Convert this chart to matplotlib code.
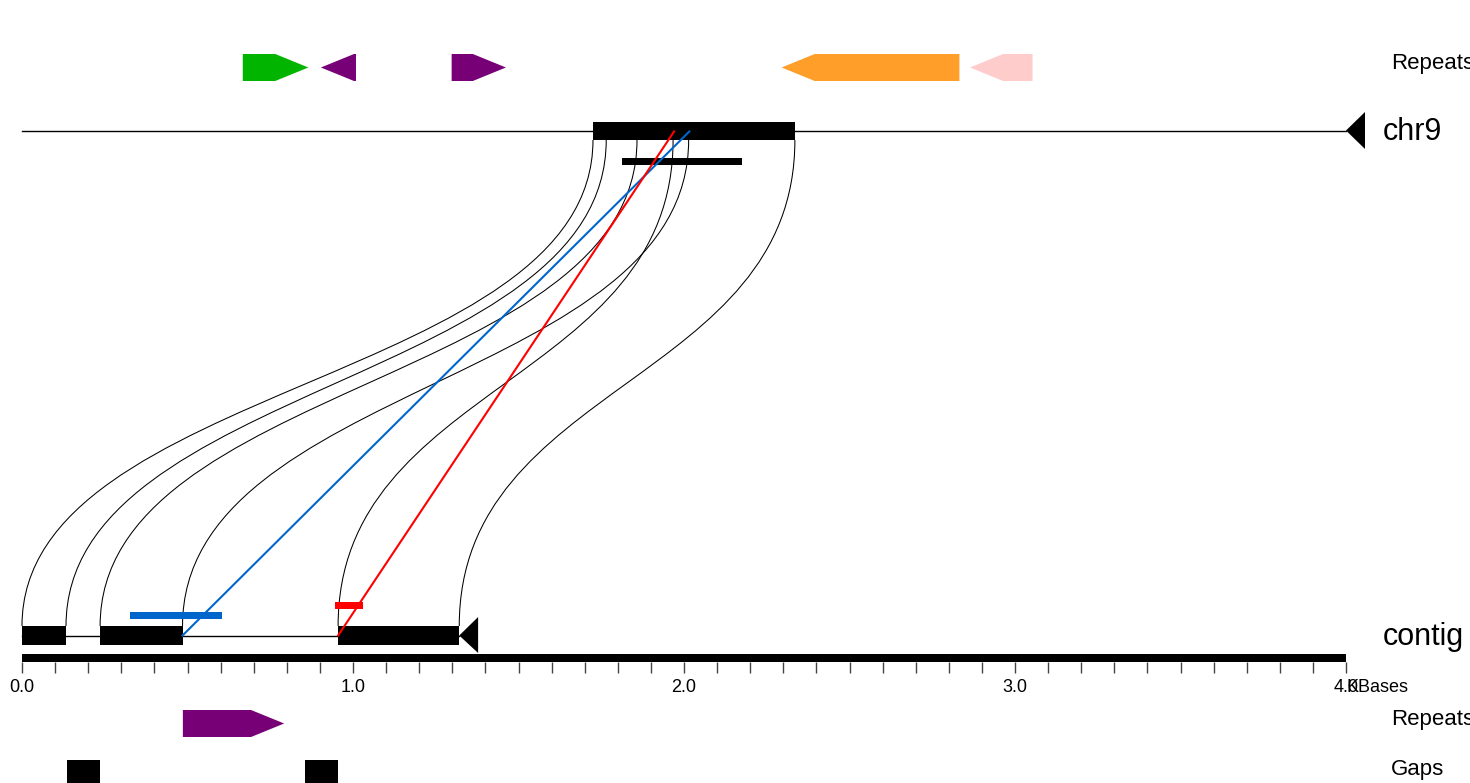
import numpy as np
import matplotlib.pyplot as plt
from matplotlib.path import Path
from matplotlib.patches import PathPatch, Polygon

plt.rcParams['font.family'] = ['Liberation Sans', 'DejaVu Sans']

# positions in kb
chr9_length = 4.0
chr9_blocks = [(1.725, 2.335)]
chr9_bar = (1.812, 2.176)
contig_length = 1.378
contig_blocks = [(0.0, 0.133), (0.236, 0.485), (0.955, 1.321)]

# alignment links: contig position -> chr9 position
link_contig = [0.0, 0.133, 0.236, 0.485, 0.955, 1.321]
link_chr9 = [1.725, 1.765, 1.858, 2.014, 1.967, 2.335]

# highlighted matches (contig pos, chr9 pos, contig bar start, bar end)
match_colors = ['#0066cc', '#ff0000']
match_contig = [0.485, 0.955]
match_chr9 = [2.016, 1.970]
match_bar_start = [0.326, 0.946]
match_bar_end = [0.605, 1.029]

# repeats (start, end, strand, colour)
top_rep_start = [0.667, 0.903, 1.298, 2.295, 2.864]
top_rep_end = [0.865, 1.009, 1.462, 2.832, 3.053]
top_rep_strand = ['+', '-', '+', '-', '-']
top_rep_color = ['#00b400', '#770077', '#770077', '#ff9e28', '#ffcccc']

bot_rep_start = [0.486]
bot_rep_end = [0.792]
bot_rep_strand = ['+']
bot_rep_color = ['#770077']

gap_start = [0.136, 0.855]
gap_end = [0.236, 0.954]

scale_labels = ['0.0', '1.0', '2.0', '3.0', '4.0']

# pixel layout
X0, SCALE = 22, 331.0
def kb(px):
    return (px - X0) / SCALE

HEAD = 0.1

fig = plt.figure(figsize=(14.7, 7.83), dpi=100)
ax = fig.add_axes([0, 0, 1, 1])
ax.set_xlim(kb(0), kb(1470))
ax.set_ylim(783, 0)
ax.axis('off')


def feature(x0, x1, strand, yc, h, color):
    head = min(HEAD, x1 - x0)
    if strand == '+':
        pts = [(x0, yc - h / 2), (x1 - head, yc - h / 2), (x1, yc),
               (x1 - head, yc + h / 2), (x0, yc + h / 2)]
    else:
        pts = [(x1, yc - h / 2), (x0 + head, yc - h / 2), (x0, yc),
               (x0 + head, yc + h / 2), (x1, yc + h / 2)]
    ax.add_patch(Polygon(pts, closed=True, facecolor=color, edgecolor='none'))


# top repeats
for s, e, st, c in zip(top_rep_start, top_rep_end, top_rep_strand, top_rep_color):
    feature(s, e, st, 67.5, 27, c)

# chr9 track
ax.plot([0, chr9_length], [130.5, 130.5], color='black', lw=1.0)
ax.add_patch(Polygon([(chr9_length, 130.5), (kb(1365), 112), (kb(1365), 149)],
                     closed=True, facecolor='black', edgecolor='none'))
ax.broken_barh([(s, e - s) for s, e in chr9_blocks], (122, 18), facecolors='black')
ax.broken_barh([(chr9_bar[0], chr9_bar[1] - chr9_bar[0])], (158, 7), facecolors='black')

# contig track
ax.plot([0, contig_blocks[-1][1]], [635.5, 635.5], color='black', lw=1.0)
ax.broken_barh([(s, e - s) for s, e in contig_blocks], (626, 19), facecolors='black')
ax.add_patch(Polygon([(contig_blocks[-1][1], 635.5), (contig_length, 617), (contig_length, 653)],
                     closed=True, facecolor='black', edgecolor='none'))

# link curves
yb, yt = 626, 140
ym = (yb + yt) / 2
for xc, xg in zip(link_contig, link_chr9):
    path = Path([(xc, yb), (xc, ym), (xg, ym), (xg, yt)],
                [Path.MOVETO, Path.CURVE4, Path.CURVE4, Path.CURVE4])
    ax.add_patch(PathPatch(path, facecolor='none', edgecolor='black', lw=0.75))

# highlighted matches
for c, xc, xg in zip(match_colors, match_contig, match_chr9):
    ax.plot([xc, xg], [635.5, 131.5], color=c, lw=1.5)
ax.broken_barh([(match_bar_start[0], match_bar_end[0] - match_bar_start[0])], (612, 7),
               facecolors=match_colors[0])
ax.broken_barh([(match_bar_start[1], match_bar_end[1] - match_bar_start[1])], (602, 7),
               facecolors=match_colors[1])

# scale bar
ax.broken_barh([(0, chr9_length)], (654, 8), facecolors='black')
ticks = np.arange(0, 41) / 10
ax.vlines(ticks, 662, 673, color='#444444', lw=1.0)
for i, lab in enumerate(scale_labels):
    ax.text(i, 688, lab, ha='center', va='center', fontsize=13)
ax.text(kb(1346), 688, 'KBases', ha='left', va='center', fontsize=13)

# bottom repeats and gaps
for s, e, st, c in zip(bot_rep_start, bot_rep_end, bot_rep_strand, bot_rep_color):
    feature(s, e, st, 723.5, 27, c)
ax.broken_barh([(s, e - s) for s, e in zip(gap_start, gap_end)], (760, 27), facecolors='black')

# track labels
ax.text(kb(1391), 64, 'Repeats', ha='left', va='center', fontsize=16)
ax.text(kb(1383), 132, 'chr9', ha='left', va='center', fontsize=22)
ax.text(kb(1383), 637, 'contig', ha='left', va='center', fontsize=22)
ax.text(kb(1391), 720, 'Repeats', ha='left', va='center', fontsize=16)
ax.text(kb(1391), 770, 'Gaps', ha='left', va='center', fontsize=16)

fig.savefig('out.png', dpi=100)
